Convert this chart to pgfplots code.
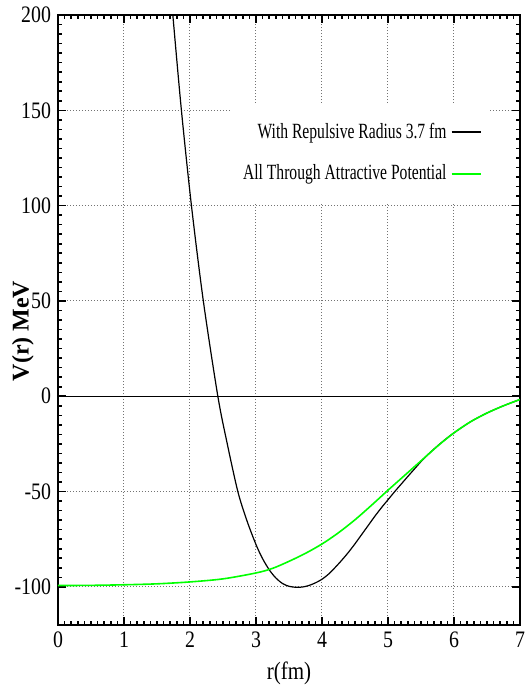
\documentclass[border=0pt]{standalone}
\usepackage{fontspec}
\setmainfont{Liberation Serif}
\newfontfamily\tickfont[FakeStretch=0.84]{Liberation Serif}
\newfontfamily\legfont[FakeStretch=0.72]{Liberation Serif}
\usepackage{pgfplots}
\pgfplotsset{compat=1.18}

\definecolor{pgreen}{RGB}{0,255,0}

\begin{document}
\begin{tikzpicture}
\begin{axis}[
    at={(0,0)}, anchor=south west,
    scale only axis,
    width=231pt, height=305pt,
    xmin=0, xmax=7, ymin=-120, ymax=200,
    xtick={0,1,2,3,4,5,6,7},
    ytick={-100,-50,0,50,100,150,200},
    minor x tick num=9, minor y tick num=9,
    tick align=inside,
    xtick pos=both, ytick pos=both,
    major tick length=4pt, minor tick length=2.2pt,
    every tick/.style={black, line width=0.8pt},
    axis line style={line width=1pt},
    grid=major,
    major grid style={dash pattern=on 0.6pt off 0.9pt, black!55, line width=0.5pt},
    /pgf/number format/assume math mode=true,
    tick label style={font=\tickfont\fontsize{11.8}{12}\selectfont},
    xlabel={r(fm)},
    xlabel style={font=\tickfont\fontsize{12.5}{13}\selectfont,
        at={(axis description cs:0.5,-0.080)}, anchor=center},
    ylabel={V(r) MeV},
    ylabel style={font=\bfseries\fontsize{12}{13}\selectfont,
        at={(axis description cs:-0.076,0.482)}, anchor=center},
    legend plot pos=right,
    legend cell align=right,
    legend image code/.code={\draw[#1, line width=1pt] (0pt,0pt) -- (14.5pt,0pt);},
    legend style={draw=none, fill=white,
        at={(axis description cs:0.935,0.856)}, anchor=north east,
        inner xsep=4pt, inner ysep=8pt, row sep=7.7pt,
        font=\legfont\fontsize{10.85}{12}\selectfont},
]
% zero line
\addplot[black, line width=0.7pt, forget plot] coordinates {(0,0) (7,0)};

% with repulsive core
\addplot[black, line width=0.6pt, smooth] coordinates {
    (1.70,217) (1.74,200) (1.87,150) (2.022,100) (2.202,50) (2.422,0)
    (2.565,-25) (2.725,-50) (2.86,-65) (3.0,-77.8) (3.1,-85.2) (3.2,-91.0)
    (3.3,-95.3) (3.4,-98.2) (3.5,-99.7) (3.6,-100.2) (3.7,-100.1) (3.8,-99.3)
    (3.9,-97.9) (4.0,-96.0) (4.1,-93.3) (4.2,-89.8) (4.3,-86.0) (4.4,-81.9)
    (4.5,-77.4) (4.6,-72.6) (4.7,-67.8) (4.8,-63.0) (4.9,-58.5) (5.0,-54.3)
    (5.1,-50.1) (5.2,-46.1) (5.3,-42.1) (5.4,-38.2) (5.5,-34.3) (5.6,-30.8)
    (5.7,-27.6) (5.8,-24.6) (5.9,-21.8) (6.0,-19.2) (6.25,-13.4) (6.5,-8.8)
    (6.75,-5.0) (7.0,-1.7)
};
\addlegendentry{With Repulsive Radius 3.7 fm}

% all through attractive
\addplot[pgreen, line width=0.8pt, smooth] coordinates {
    (0,-99.3) (0.5,-99.2) (1.0,-98.9) (1.5,-98.4) (2.0,-97.4) (2.5,-95.8)
    (3.0,-92.7) (3.25,-90.3) (3.5,-86.6) (3.75,-82.4) (4.0,-77.5)
    (4.25,-71.6) (4.5,-64.8) (4.75,-57.2) (5.0,-49.3) (5.25,-41.6)
    (5.5,-33.9) (5.75,-26.2) (6.0,-19.2) (6.25,-13.4) (6.5,-8.8)
    (6.75,-5.0) (7.0,-1.7)
};
\addlegendentry{All Through Attractive Potential}
\end{axis}
\pgfresetboundingbox
\path (-29pt,-30.5pt) rectangle (234.5pt,312.5pt);
\end{tikzpicture}
\end{document}
